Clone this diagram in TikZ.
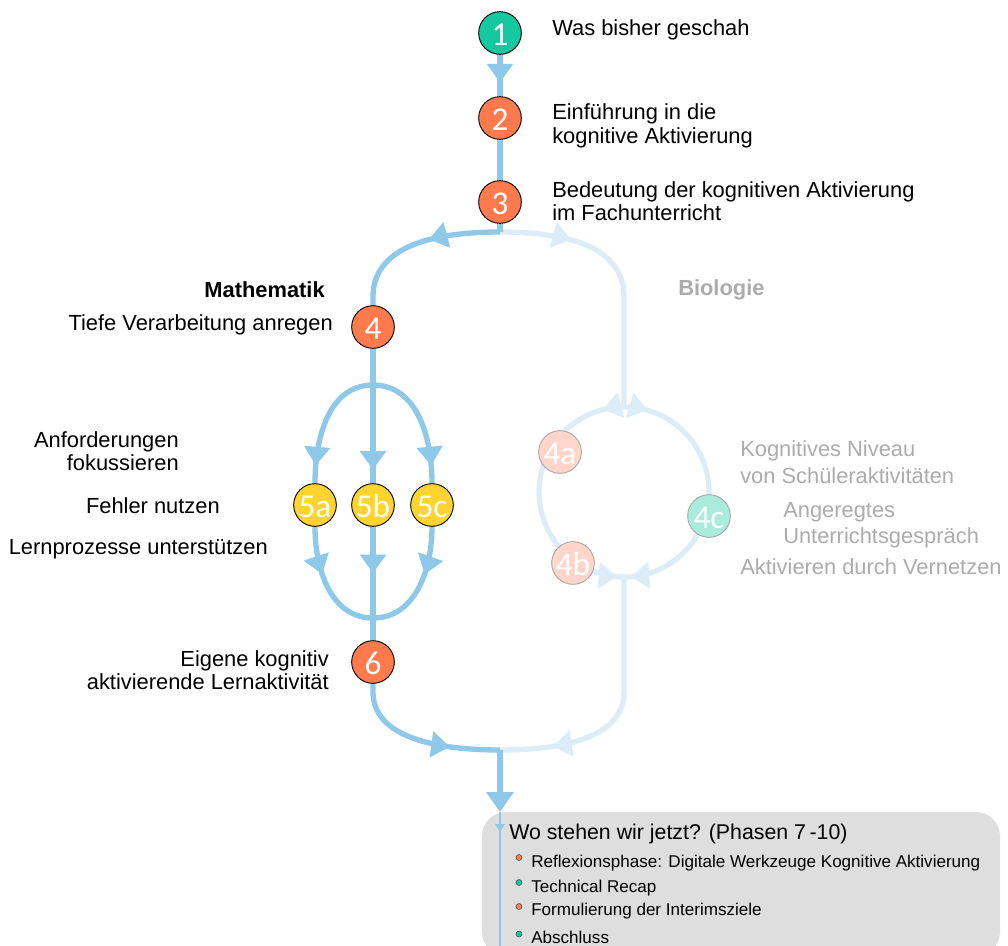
\documentclass[tikz,border=0pt]{standalone}
\usepackage{fontspec}
\setmainfont{Liberation Sans}
\newfontfamily\numfont{Carlito}
\usetikzlibrary{arrows.meta,decorations.markings,backgrounds}
\definecolor{cteal}{RGB}{22,200,160}
\definecolor{corange}{RGB}{255,122,76}
\definecolor{cyellow}{RGB}{255,212,47}
\definecolor{cline}{RGB}{143,201,233}
\definecolor{clight}{RGB}{221,237,248}
\definecolor{csalmon}{RGB}{255,214,201}
\definecolor{cteallight}{RGB}{170,236,220}
\definecolor{cgraytext}{RGB}{172,172,172}
\definecolor{cbox}{RGB}{222,222,222}
\definecolor{ccircgray}{RGB}{168,168,168}
\begin{document}
\begin{tikzpicture}[x=0.75pt,y=0.75pt,
  num/.style={circle, draw=black, line width=0.7pt, minimum size=32pt, inner sep=0pt, text=white,
    font=\numfont\fontsize{25}{25}\selectfont, text height=18.8pt, text depth=0pt},
  numlite/.style={num, draw=ccircgray},
  dk/.style={draw=cline, line width=4pt},
  lt/.style={draw=clight, line width=4pt},
  amark/.style={postaction={decorate, decoration={markings,
    mark=at position #1 with {\arrow{Triangle[width=19pt,length=14pt]}}}}},
  lbl/.style={font=\fontsize{16.4}{17.5}\selectfont, inner sep=0pt},
  lblr/.style={lbl, anchor=east, align=right},
  lbll/.style={lbl, anchor=west, align=left},
  glbl/.style={lbll, text=cgraytext, font=\fontsize{16.4}{20}\selectfont},
  item/.style={font=\fontsize{12.8}{14}\selectfont, anchor=west, inner sep=0pt},
  bul/.style={circle, draw=black!70, line width=0.4pt, minimum size=4.5pt, inner sep=0pt}
]
\useasboundingbox (0,0) rectangle (1008,-946);
\begin{scope}
\clip (0,0) rectangle (1008,-946);

% circles
\node[num, fill=cteal]   (n1) at (500,-33)  {1};
\node[num, fill=corange] (n2) at (500,-118) {2};
\node[num, fill=corange] (n3) at (500,-202) {3};
\node[num, fill=corange] (n4) at (373,-327) {4};
\node[num, fill=cyellow] (n5a) at (315,-505) {5a};
\node[num, fill=cyellow] (n5b) at (373,-505) {5b};
\node[num, fill=cyellow] (n5c) at (432,-505) {5c};
\node[num, fill=corange] (n6) at (373,-662) {6};
\node[numlite, fill=csalmon]    (n4a) at (560,-452) {4a};
\node[numlite, fill=csalmon]    (n4b) at (573,-563) {4b};
\node[numlite, fill=cteallight] (n4c) at (709,-516) {4c};

% labels
\node[lbll] (t1) at (552,-29.4) {Was bisher geschah};
\node[lbll] (t2) at (552,-126) {Einführung in die\\kognitive Aktivierung};
\node[lbll] (t3) at (552,-201) {Bedeutung der kognitiven Aktivierung\\im Fachunterricht};
\node[lblr, font=\bfseries\fontsize{16.4}{17.5}\selectfont] (tm) at (325,-289.4) {Mathematik};
\node[lblr] (t4) at (333,-324.4) {Tiefe Verarbeitung anregen};
\node[lbll, text=cgraytext, font=\bfseries\fontsize{16.4}{17.5}\selectfont] (tb) at (678,-289.4) {Biologie};
\node[lblr] (t5a) at (179,-451) {Anforderungen\\fokussieren};
\node[lblr] (t5b) at (220,-505.4) {Fehler nutzen};
\node[lblr] (t5c) at (268,-549.4) {Lernprozesse unterstützen};
\node[lblr] (t6) at (329,-670) {Eigene kognitiv\\aktivierende Lernaktivität};
\node[glbl] (t4a) at (740,-462.4) {Kognitives Niveau\\von Schüleraktivitäten};
\node[glbl] (t4c) at (783,-525.4) {Angeregtes\\Unterrichtsgespräch};
\node[glbl] (t4b) at (740,-566.4) {Aktivieren durch Vernetzen};

% summary box
\node[lbll, font=\fontsize{16}{17.5}\selectfont] (wo) at (509,-833.5) {Wo stehen wir jetzt? (Phasen 7\,-10)};
\node[item] (i1) at (531,-862.7) {Reflexionsphase: Digitale Werkzeuge Kognitive Aktivierung};
\node[item] (i2) at (531,-887.7) {Technical Recap};
\node[item] (i3) at (531,-910.7) {Formulierung der Interimsziele};
\node[item] (i4) at (531,-937.7) {Abschluss};
\node[bul, fill=corange] (b1) at (519,-857.5) {};
\node[bul, fill=cteal]   (b2) at (519,-882.5) {};
\node[bul, fill=corange] (b3) at (519,-906.5) {};
\node[bul, fill=cteal]   (b4) at (519,-934) {};

\begin{scope}[on background layer]
\fill[cbox, rounded corners=18pt] (482,-812) rectangle (1000,-956);
\coordinate (split) at (500,-232);
\coordinate (merge) at (500,-750);
\coordinate (boxtop) at (500,-812);
\coordinate (ringtop) at (624,-407);
\coordinate (ringbot) at (624,-577);
\coordinate (ovbot) at (373,-618);
\coordinate (ovtop) at (373,-385);
\coordinate (boxend) at (500,-946);
% light (Biologie) branch
\draw[lt, amark=0.27] (split) .. controls (575,-232) and (624,-250) .. (624,-297) -- (ringtop);
\draw[lt, amark=0.16] (ringtop) arc[start angle=90, end angle=180, radius=85] coordinate (ringl);
\draw[lt, amark=0.95] (ringl) arc[start angle=180, end angle=270, radius=85];
\draw[lt, amark=0.18] (ringtop) arc[start angle=90, end angle=0, radius=85] coordinate (ringr);
\draw[lt, amark=0.95] (ringr) arc[start angle=0, end angle=-90, radius=85];
\draw[lt, amark=0.8] (ringbot) -- (624,-692) .. controls (624,-735) and (570,-750) .. (merge);
% dark (Mathematik) branch
\draw[dk, amark=0.67] (n1) -- (n2);
\draw[dk] (n2) -- (n3);
\draw[dk] (n3) -- (split);
\draw[dk, amark=0.43] (split) .. controls (425,-232) and (373,-250) .. (373,-297) -- (n4);
\draw[dk, amark=0.9] (n4) -- (n5b);
\draw[dk, amark=0.41] (n5b) -- (n6);
\draw[dk, amark=0.86] (ovtop) to[out=180, in=90] (n5a);
\draw[dk, amark=0.4] (n5a) to[out=-90, in=180] (ovbot);
\draw[dk, amark=0.86] (ovtop) to[out=0, in=90] (n5c);
\draw[dk, amark=0.4] (n5c) to[out=-90, in=0] (ovbot);
\draw[dk, amark=0.69] (n6) -- (373,-692) .. controls (373,-735) and (430,-750) .. (merge);
\draw[dk, -{Triangle[width=20pt,length=15pt]}] (merge) -- (boxtop);
\draw[draw=cline, line width=1.1pt, postaction={decorate, decoration={markings,
    mark=at position 0.15 with {\arrow{Triangle[width=7pt,length=6pt]}}}}] (boxtop) -- (boxend);
\end{scope}
\end{scope}
\end{tikzpicture}
\end{document}
